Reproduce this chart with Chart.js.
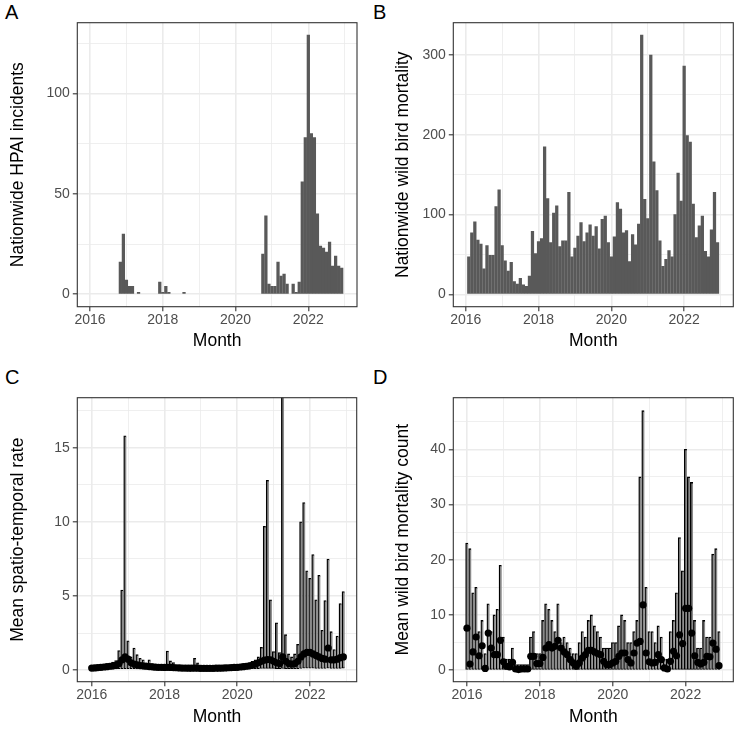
<!DOCTYPE html>
<html>
<head>
<meta charset="utf-8">
<script src="https://cdn.jsdelivr.net/npm/chart.js@4.4.1/dist/chart.umd.min.js"></script>
<style>
  body { margin: 0; background: #fff; width: 736px; height: 730px; position: relative; overflow: hidden; font-family: 'Liberation Sans', Arial, sans-serif; }
  canvas { position: absolute; }
  .tag { position: absolute; font-size: 20px; line-height: 20px; color: #000; }
</style>
</head>
<body>
<div class="tag" style="left:5px;top:2px">A</div>
<div class="tag" style="left:373px;top:2px">B</div>
<div class="tag" style="left:5px;top:367px">C</div>
<div class="tag" style="left:373px;top:367px">D</div>
<canvas id="pA" width="368" height="365" style="left:0;top:0"></canvas>
<canvas id="pB" width="368" height="365" style="left:368px;top:0"></canvas>
<canvas id="pC" width="368" height="365" style="left:0;top:365px"></canvas>
<canvas id="pD" width="368" height="365" style="left:368px;top:365px"></canvas>
<script>
// months 2016-01 .. 2022-12, as month index
const months = Array.from({ length: 84 }, (_, i) => i);
const yearTicks = [0, 24, 48, 72];
const yearLabels = ['2016', '2018', '2020', '2022'];
const yearMinor = [12, 36, 60, 84];

// A: nationwide HPAI incidents
const incidents = [
  0, 0, 0, 0, 0, 0, 0, 0, 0, 0, 16, 30,
  7, 4, 4, 0, 1, 0, 0, 0, 0, 0, 0, 6,
  1, 4, 1, 0, 0, 0, 0, 1, 0, 0, 0, 0,
  0, 0, 0, 0, 0, 0, 0, 0, 0, 0, 0, 0,
  0, 0, 0, 0, 0, 0, 0, 0, 0, 20, 39, 5,
  4, 4, 16, 9, 10, 5, 0, 5, 1, 6, 56, 78,
  129, 80, 78, 40, 24, 23, 21, 26, 14, 19, 14, 13
];

// B: nationwide wild bird mortality
const mortality = [
  null, 47, 77, 91, 68, 63, 32, 61, 49, 49, 110, 131,
  61, 42, 29, 40, 16, 13, 20, 12, 10, 23, 79, 51,
  66, 70, 185, 120, 65, 102, 111, 60, 67, 67, 128, 47,
  58, 73, 90, 66, 77, 87, 73, 85, 57, 94, 98, 65,
  47, 72, 115, 107, 77, 80, 41, 75, 62, 88, 325, 119,
  95, 300, 166, 130, 67, 35, 44, 55, 47, 100, 152, 117,
  286, 199, 191, 113, 71, 86, 98, 54, 47, 81, 128, 65
];

// C: mean spatio-temporal rate with interval
const rateMean = [
  0.15, 0.16, 0.18, 0.2, 0.22, 0.24, 0.27, 0.3, 0.33, 0.45, 0.7, 0.9,
  0.75, 0.5, 0.42, 0.36, 0.32, 0.3, 0.27, 0.25, 0.23, 0.21, 0.2, 0.2,
  0.19, 0.2, 0.19, 0.18, 0.17, 0.16, 0.15, 0.15, 0.14, 0.14, 0.15, 0.14,
  0.13, 0.13, 0.13, 0.13, 0.13, 0.14, 0.14, 0.15, 0.16, 0.17, 0.18, 0.19,
  0.2, 0.22, 0.24, 0.27, 0.3, 0.35, 0.42, 0.5, 0.6, 0.68, 0.72, 0.7,
  0.6, 0.5, 0.45, 0.9, 0.6, 0.45, 0.42, 0.45, 0.6, 0.9, 1.1, 1.2,
  1.2, 1.1, 1.0, 0.9, 0.8, 0.75, 1.5, 0.7, 0.7, 0.75, 0.85, 0.9
];
const rateLow = [
  0.05, 0.05, 0.06, 0.06, 0.07, 0.07, 0.08, 0.08, 0.09, 0.1, 0.1, 0.1,
  0.1, 0.1, 0.1, 0.09, 0.09, 0.08, 0.08, 0.08, 0.07, 0.07, 0.07, 0.07,
  0.06, 0.06, 0.06, 0.06, 0.05, 0.05, 0.05, 0.05, 0.05, 0.05, 0.05, 0.05,
  0.05, 0.05, 0.05, 0.05, 0.05, 0.05, 0.05, 0.05, 0.05, 0.05, 0.06, 0.06,
  0.06, 0.07, 0.07, 0.08, 0.09, 0.1, 0.1, 0.1, 0.12, 0.12, 0.12, 0.12,
  0.12, 0.1, 0.1, 0.12, 0.1, 0.1, 0.1, 0.1, 0.1, 0.12, 0.14, 0.15,
  0.15, 0.14, 0.13, 0.12, 0.12, 0.12, 0.14, 0.12, 0.12, 0.12, 0.13, 0.14
];
const rateHigh = [
  0.25, 0.25, 0.28, 0.3, 0.32, 0.35, 0.45, 0.55, 0.65, 1.33, 5.4, 15.8,
  1.98, 0.9, 1.5, 1.05, 0.8, 0.7, 0.5, 0.7, 0.45, 0.4, 0.35, 0.4,
  0.35, 1.3, 0.63, 0.52, 0.3, 0.3, 0.3, 0.28, 0.3, 0.25, 0.8, 0.5,
  0.28, 0.26, 0.25, 0.25, 0.25, 0.25, 0.26, 0.27, 0.28, 0.3, 0.3, 0.32,
  0.34, 0.36, 0.4, 0.42, 0.5, 0.6, 0.7, 0.9, 1.55, 9.7, 12.8, 4.75,
  1.26, 3.2, 1.2, 19, 2.4, 1.1, 0.9, 1.1, 1.75, 10.0, 11.3, 6.7,
  6.2, 7.8, 4.75, 6.4, 2.7, 4.7, 7.5, 2.6, 1.4, 2.3, 4.5, 5.3
];

// D: mean wild bird mortality count with interval (lower bound 0)
const countMean = [
  7.6, 1.1, 3.3, 6.0, 2.6, 4.4, 0.3, 6.7, 4.0, 2.8, 2.8, 5.4,
  1.5, 0.7, 0.6, 1.4, 0.2, 0.1, 0.2, 0.2, 0.2, 2.5, 2.5, 1.2,
  1.2, 2.3, 4.0, 4.6, 4.0, 4.3, 5.4, 4.0, 3.3, 2.8, 1.9, 1.3,
  0.7, 1.3, 2.2, 2.8, 3.6, 3.6, 3.3, 3.0, 2.8, 1.6, 1.0, 1.0,
  1.3, 1.6, 2.5, 3.1, 3.1, 1.9, 1.3, 3.1, 4.9, 5.2, 11.8, 3.1,
  1.5, 1.3, 1.4, 2.8, 1.9, 0.4, 0.2, 1.6, 3.4, 2.6, 6.4, 4.8,
  11.2, 11.2, 6.7, 2.6, 1.4, 1.1, 1.4, 2.5, 2.4, 4.9, 3.8, 0.8
];
const countHigh = [
  23, 22, 14, 15, 7, 9, 3, 12, 7, 10, 11, 19,
  6, 2, 2, 4, 1, 1, 1, 1, 1, 6, 7, 3,
  3, 9, 12, 11, 9, 7, 12, 5, 6, 5, 4, 3,
  3, 5, 7, 6, 9, 10, 8, 7, 6, 4, 4, 4,
  5, 5, 8, 10, 9, 5, 5, 7, 9, 35, 47, 15,
  7, 7, 5, 8, 6, 2, 2, 7, 9, 14, 24, 18,
  40, 35, 34, 9, 4, 4, 9, 6, 6, 21, 22, 7
];

Chart.defaults.font.family = "'Liberation Sans', Arial, sans-serif";

const framePlugin = {
  id: 'frame',
  afterDatasetsDraw(chart) {
    const { ctx, chartArea: a } = chart;
    ctx.save();
    ctx.strokeStyle = '#333333';
    ctx.lineWidth = 1.1;
    ctx.strokeRect(a.left, a.top, a.right - a.left, a.bottom - a.top);
    ctx.restore();
  }
};

function gridOpts(major) {
  return {
    offset: false,
    color: '#EBEBEB',
    lineWidth: c => major.includes(c.tick.value) ? 1.6 : 0.8,
    tickLength: 4.5,
    tickWidth: 1.1,
    tickColor: c => major.includes(c.tick.value) ? '#333333' : 'rgba(0,0,0,0)'
  };
}

function panel(id, cfg) {
  const xTicks = [...yearTicks, ...yearMinor].sort((a, b) => a - b);
  new Chart(document.getElementById(id), {
    type: 'bar',
    data: { datasets: cfg.datasets },
    options: {
      responsive: false,
      animation: false,
      devicePixelRatio: 1,
      layout: { autoPadding: false, padding: cfg.pad },
      plugins: { legend: { display: false }, tooltip: { enabled: false } },
      scales: {
        x: {
          type: 'linear', min: cfg.xMin, max: cfg.xMax, offset: false,
          afterBuildTicks: s => { s.ticks = xTicks.map(v => ({ value: v })); },
          afterFit: s => { s.height = cfg.xH; },
          ticks: {
            autoSkip: false, maxRotation: 0, padding: 1, color: '#4D4D4D', font: { size: 14 },
            callback: v => { const k = yearTicks.indexOf(v); return k >= 0 ? yearLabels[k] : ''; }
          },
          grid: gridOpts(yearTicks),
          border: { display: false },
          title: { display: true, text: 'Month', color: '#000', font: { size: 17.5 }, padding: { top: 0, bottom: cfg.titlePadX } }
        },
        y: {
          type: 'linear', min: cfg.yMin, max: cfg.yMax,
          afterBuildTicks: s => { s.ticks = cfg.yTicks.map(v => ({ value: v })); },
          afterFit: s => { s.width = cfg.yW; },
          ticks: {
            autoSkip: false, padding: 3, color: '#4D4D4D', font: { size: 14 },
            callback: v => cfg.yMajor.includes(v) ? String(v) : ''
          },
          grid: gridOpts(cfg.yMajor),
          border: { display: false },
          title: { display: true, text: cfg.yTitle, color: '#000', font: { size: 17.5 }, padding: { top: cfg.titlePadY, bottom: 0 } }
        }
      }
    },
    plugins: [framePlugin]
  });
}

// months with no count get no bar at all
function barSet(values) {
  return {
    type: 'bar',
    data: months.map((m, i) => ({ x: m, y: values[i] ? values[i] : null })),
    backgroundColor: '#595959',
    barThickness: 2.6
  };
}

function rangeSets(low, high, mean) {
  return [
    {
      type: 'line',
      data: months.map((m, i) => ({ x: m, y: mean[i] })),
      showLine: false,
      pointRadius: 3.6,
      pointBackgroundColor: '#000',
      pointBorderWidth: 0,
      order: 0
    },
    {
      type: 'bar',
      data: months.map((m, i) => ({ x: m, y: [low[i], high[i]] })),
      backgroundColor: '#8a8a8a',
      borderColor: '#000',
      borderWidth: { left: 1.4, top: 1.3, bottom: 1, right: 0 },
      borderSkipped: false,
      barThickness: 2.7,
      order: 1
    }
  ];
}

panel('pA', {
  datasets: [barSet(incidents)],
  pad: { left: 0, top: 22.7, right: 11, bottom: 0 },
  xMin: -4.2, xMax: 88.05, xH: 58.3, titlePadX: 13.5,
  yMin: -6.2, yMax: 135.2, yW: 77.3, titlePadY: 8,
  yTicks: [0, 25, 50, 75, 100, 125], yMajor: [0, 50, 100],
  yTitle: 'Nationwide HPAI incidents'
});

panel('pB', {
  datasets: [barSet(mortality)],
  pad: { left: 0, top: 22.7, right: 2.7, bottom: 0 },
  xMin: -4.1, xMax: 88.2, xH: 58.3, titlePadX: 13.5,
  yMin: -15.5, yMax: 340.5, yW: 85.3, titlePadY: 24.5,
  yTicks: [0, 50, 100, 150, 200, 250, 300], yMajor: [0, 100, 200, 300],
  yTitle: 'Nationwide wild bird mortality'
});

panel('pC', {
  datasets: rangeSets(rateLow, rateHigh, rateMean),
  pad: { left: 0, top: 32.7, right: 11.3, bottom: 0 },
  xMin: -4.75, xMax: 87.4, xH: 48.3, titlePadX: 2.5,
  yMin: -0.77, yMax: 18.37, yW: 77.3, titlePadY: 8,
  yTicks: [0, 2.5, 5, 7.5, 10, 12.5, 15, 17.5], yMajor: [0, 5, 10, 15],
  yTitle: 'Mean spatio-temporal rate'
});

panel('pD', {
  datasets: rangeSets(months.map(() => 0), countHigh, countMean),
  pad: { left: 0, top: 32.7, right: 2.7, bottom: 0 },
  xMin: -4.5, xMax: 87.7, xH: 48.3, titlePadX: 2.5,
  yMin: -2.1, yMax: 49.35, yW: 85.3, titlePadY: 24.5,
  yTicks: [0, 5, 10, 15, 20, 25, 30, 35, 40, 45], yMajor: [0, 10, 20, 30, 40],
  yTitle: 'Mean wild bird mortality count'
});
</script>
</body>
</html>
